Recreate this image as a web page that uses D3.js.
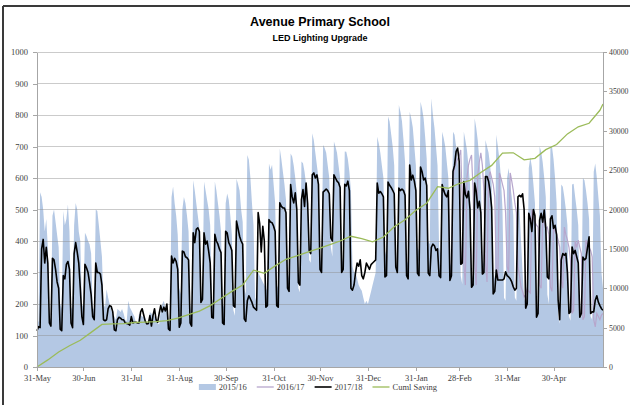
<!DOCTYPE html>
<html>
<head>
<meta charset="utf-8">
<title>Avenue Primary School</title>
<script src="https://cdn.jsdelivr.net/npm/d3@7/dist/d3.min.js"></script>
<style>
  body { margin:0; background:#fff; }
  .axis text, .legend text { font-family:"Liberation Serif", serif; font-size:8.5px; fill:#404040; }
  .axis.right text { font-size:7.8px; }
  .axis path, .axis line { stroke:#a6a6a6; shape-rendering:crispEdges; }
  .title { font-family:"Liberation Sans", Arial, sans-serif; font-weight:bold; fill:#000; text-anchor:middle; }
</style>
</head>
<body>
<svg id="chart" width="630" height="405"></svg>
<script>
// ---------------- data (daily kWh, first day 31-May)
var firstDay = "2017-05-31";

var tickDates = ["2017-05-31","2017-06-30","2017-07-31","2017-08-31","2017-09-30","2017-10-31",
                 "2017-11-30","2017-12-31","2018-01-31","2018-02-28","2018-03-31","2018-04-30"];
var leftTicks  = [0,100,200,300,400,500,600,700,800,900,1000];
var rightTicks = [0,5000,10000,15000,20000,25000,30000,35000,40000];

var seriesNames = ["2015/16","2016/17","2017/18","Cuml Saving"];

// 2015/16 (area)
var use1516 = [140,145,555,
  540,500,430,470,380,160,150,  480,500,460,420,380,200,185,  495,450,470,516,430,190,180,
  450,521,500,430,400,200,190,  426,416,400,390,360,190,180,  500,495,450,400,350,200,190,
  247,220,200,180,170,160,150,  184,180,175,184,170,150,145,  210,190,180,170,160,140,135,
  170,165,160,158,155,140,138,  175,170,165,160,150,140,135,  180,200,210,190,180,150,140,
  540,573,520,480,420,250,230,  500,540,520,480,430,200,160,  593,560,520,480,440,230,205,
  588,560,530,500,450,220,200,  589,560,520,480,430,200,190,  520,551,530,480,420,180,163,
  598,580,560,500,460,250,230,  673,658,600,520,450,220,205,  300,290,280,270,260,250,240,
  646,626,642,580,520,260,250,  694,660,620,580,530,300,280,  678,668,640,600,550,250,237,
  652,647,620,580,540,340,331,  742,720,679,640,600,350,320,  705,695,680,640,600,380,350,
  716,700,680,640,600,350,330,  684,683,660,620,560,320,300,  300,280,260,250,242,220,200,
  210,200,220,240,260,280,300,  731,710,680,640,600,368,350,  795,779,740,700,640,320,305,
  832,810,780,720,650,340,326,  810,790,760,700,640,380,368,  842,821,790,730,660,400,390,
  853,800,760,700,640,380,360,  747,726,700,650,600,330,316,  747,737,700,650,600,290,263,
  747,720,690,640,580,300,280,  790,760,720,660,600,340,326,  721,700,680,640,580,300,280,
  737,700,660,600,500,220,210,  600,632,579,540,480,221,210,  540,500,400,300,221,200,190,
  632,666,635,580,520,200,179,  700,684,650,600,540,230,200,  695,700,660,600,520,160,137,
  579,572,540,500,450,160,147,  579,582,540,500,450,170,158,  600,593,560,520,470,160,150,
  620,646,600,540,480,300,250];

// 2016/17 (only shown from 17-Feb)
var use1617Start = "2018-02-17";
var use1617 = [570,560,545,540,550,300,290,
  600,630,650,660,670,689,520,330,260,
  600,640,660,673,560,330,260,  610,650,680,640,560,330,270,  600,620,600,580,540,300,280,
  616,600,580,560,490,320,300,  616,590,560,520,490,317,290,  254,240,222,230,250,240,235,
  498,470,460,450,444,260,250,  470,460,440,444,420,254,240,  444,430,420,403,380,276,250,
  444,420,403,380,337,170,180,  400,380,403,380,360,150,160,  403,390,380,370,350,150,127,
  170,160,150,165,170];

// 2017/18
var use1718 = [115,128,125,
  375,405,330,380,330,140,130,  345,340,310,270,250,120,115,  290,280,326,335,310,140,125,
  360,395,365,330,250,160,135,  326,315,300,268,230,160,150,  330,300,300,295,260,150,147,
  150,185,195,192,175,118,115,  150,158,155,150,150,140,138,  137,133,160,140,142,142,140,
  140,175,185,165,145,137,138,  163,130,163,185,150,142,170,  195,175,190,178,200,121,116,
  352,330,345,335,310,126,140,  368,365,350,347,340,140,130,  426,395,437,442,430,205,215,
  426,390,400,368,330,158,155,  421,400,390,374,363,140,135,  431,425,395,384,370,195,190,
  463,440,415,400,390,153,145,  210,226,216,205,190,185,180,  490,455,365,447,400,190,195,
  468,460,458,447,430,195,190,  521,510,505,505,490,250,240,  579,540,521,553,500,268,260,
  531,563,510,584,520,370,360,  610,616,600,610,580,310,300,  555,560,565,560,550,410,400,
  610,600,590,585,570,300,310,  580,575,590,560,250,244,260,  300,330,320,340,290,280,300,
  330,320,310,325,330,335,340,  584,552,557,550,540,286,290,  587,577,570,561,550,317,300,
  568,560,565,560,545,290,280,  641,594,609,590,560,298,290,  635,620,594,600,576,298,290,
  380,390,385,370,375,290,284,  579,560,547,540,560,275,290,  621,640,684,695,653,326,330,
  589,547,537,558,500,253,260,  584,558,505,526,490,295,300,  605,605,590,558,505,232,240,
  308,276,276,276,276,280,302,  290,286,280,270,254,244,250,  540,545,540,550,500,187,200,
  488,470,430,500,480,158,170,  466,488,460,498,440,286,280,  470,480,440,450,420,212,150,
  340,360,355,361,300,170,175,  381,360,370,350,330,158,170,  349,340,345,380,413,170,175,
  175,212,226,206,195,185,180];

// cumulative saving, read once a week (last value = end of year)
var cumlStepDays = 7;
var cumlSaving = [0,900,1900,2700,3400,4400,5400,5470,5500,5650,5700,5760,5890,6200,6650,
  7100,7800,8700,9600,10400,12300,11900,12840,13680,14100,14600,15030,15500,16000,16600,
  16300,15900,16500,17800,18700,19900,20800,22900,22700,23300,23700,24700,25600,27160,
  27200,26300,26500,27600,28250,29600,30500,30950,32600,33400];

// ---------------- set up
var parse = d3.timeParse("%Y-%m-%d");
var day0 = parse(firstDay);
var nDays = use1718.length - 1;
function dayDate(i) { return d3.timeDay.offset(day0, i); }

var svg = d3.select("#chart");
var plot = {left:37, right:603, top:52, bottom:367};

var x  = d3.scaleTime().domain([day0, dayDate(nDays)]).range([plot.left, plot.right]);
var yL = d3.scaleLinear().domain([0, 1000]).range([plot.bottom, plot.top]);
var yR = d3.scaleLinear().domain([0, 40000]).range([plot.bottom, plot.top]);

var colArea = "#b4c8e4", col1617 = "#b7a6cc", col1718 = "#000000", colCuml = "#9bbb59";

// frame
svg.append("line").attr("x1",3).attr("y1",6).attr("x2",630).attr("y2",6)
   .attr("stroke","#3a3a3a").attr("stroke-width",2);
svg.append("line").attr("x1",3).attr("y1",6).attr("x2",3).attr("y2",405)
   .attr("stroke","#3a3a3a").attr("stroke-width",2);

// titles
svg.append("text").attr("class","title").attr("x",320).attr("y",26)
   .style("font-size","12.5px").text("Avenue Primary School");
svg.append("text").attr("class","title").attr("x",320).attr("y",41)
   .style("font-size","9px").text("LED Lighting Upgrade");

// area 2015/16
var area = d3.area()
  .x(function(d,i){ return x(dayDate(i)); })
  .y0(yL(0))
  .y1(function(d){ return yL(d); });
svg.append("path").datum(use1516).attr("d", area).attr("fill", colArea);

// grid
svg.append("g").selectAll("line").data(leftTicks.slice(1)).enter().append("line")
  .attr("x1", plot.left).attr("x2", plot.right)
  .attr("y1", function(d){ return yL(d); }).attr("y2", function(d){ return yL(d); })
  .attr("stroke","#8c8c8c").attr("stroke-opacity",0.45).attr("shape-rendering","crispEdges");

// lines
var line = d3.line()
  .x(function(d){ return x(d.date); })
  .y(function(d){ return d.y; });

var off1617 = d3.timeDay.count(day0, parse(use1617Start));
svg.append("path")
  .datum(use1617.map(function(v,i){ return {date: dayDate(off1617 + i), y: yL(v)}; }))
  .attr("d", line).attr("fill","none").attr("stroke",col1617).attr("stroke-width",1.2);

svg.append("path")
  .datum(use1718.map(function(v,i){ return {date: dayDate(i), y: yL(v)}; }))
  .attr("d", line).attr("fill","none").attr("stroke",col1718).attr("stroke-width",1.6)
  .attr("stroke-linejoin","round");

svg.append("path")
  .datum(cumlSaving.map(function(v,i){
     return {date: dayDate(Math.min(i*cumlStepDays, nDays)), y: yR(v)}; }))
  .attr("d", line).attr("fill","none").attr("stroke",colCuml).attr("stroke-width",1.3);

// axes
svg.append("g").attr("class","axis").attr("transform","translate("+plot.left+",0)")
  .call(d3.axisLeft(yL).tickValues(leftTicks).tickFormat(d3.format("d"))
        .tickSize(4).tickPadding(5).tickSizeOuter(0));

svg.append("g").attr("class","axis right").attr("transform","translate("+plot.right+",0)")
  .call(d3.axisRight(yR).tickValues(rightTicks).tickFormat(d3.format("d"))
        .tickSize(4).tickPadding(2).tickSizeOuter(0));

svg.append("g").attr("class","axis").attr("transform","translate(0,"+plot.bottom+")")
  .call(d3.axisBottom(x).tickValues(tickDates.map(parse))
        .tickFormat(d3.timeFormat("%d-%b")).tickSize(4).tickPadding(4).tickSizeOuter(0));

// legend
var legend = svg.append("g").attr("class","legend");
var legY = 387, lx = 0, symW = 17;
var items = legend.selectAll("g").data(seriesNames).enter().append("g");
items.each(function(name, i){
  var g = d3.select(this);
  if (i === 0) {
    g.append("rect").attr("x",0).attr("y",-3).attr("width",symW).attr("height",6).attr("fill",colArea);
  } else {
    g.append("line").attr("x1",0).attr("x2",symW).attr("y1",0).attr("y2",0)
     .attr("stroke",[null,col1617,col1718,colCuml][i]).attr("stroke-width", i === 2 ? 1.6 : 1.3);
  }
  var t = g.append("text").attr("x",symW+3).attr("y",3).text(name);
  g.attr("transform","translate("+lx+",0)");
  lx += symW + 3 + t.node().getComputedTextLength() + 10;
});
legend.attr("transform","translate("+(318 - (lx-10)/2)+","+legY+")");
</script>
</body>
</html>
